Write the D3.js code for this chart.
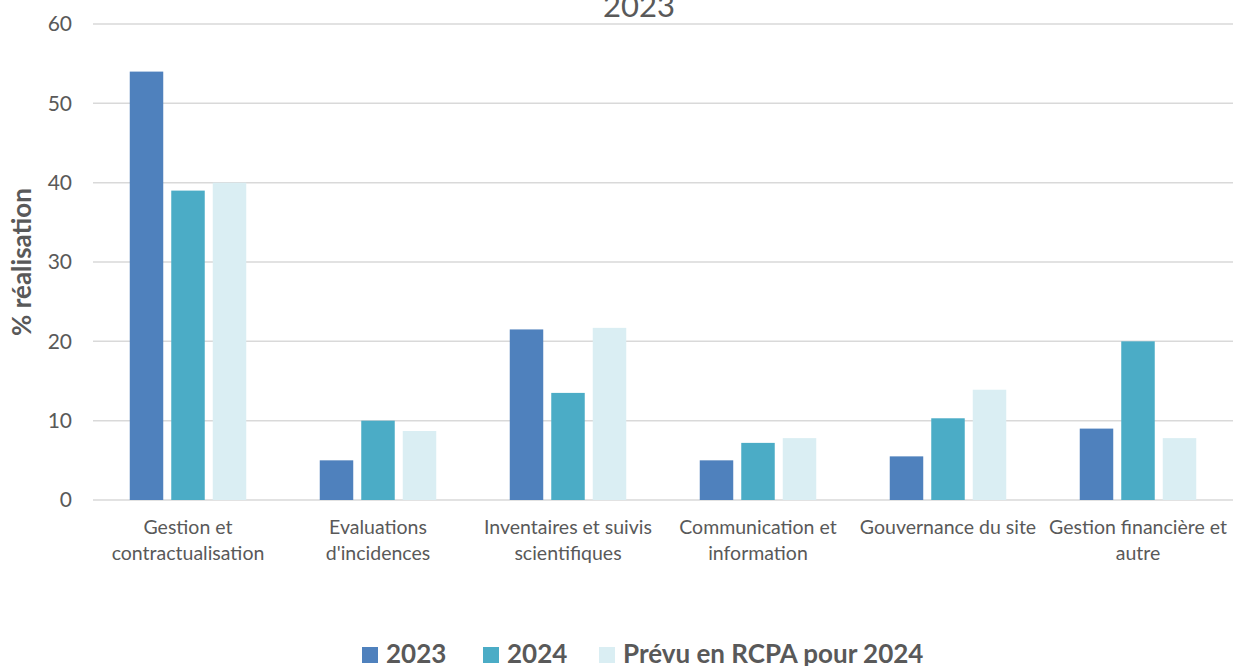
<!DOCTYPE html>
<html><head><meta charset="utf-8">
<script src="https://cdn.jsdelivr.net/npm/d3@7"></script>
<style>body{margin:0;background:#fff;} svg{display:block;}</style>
</head><body>
<svg id="c" width="1233" height="666"></svg>
<script>
const categories = [
  ["Gestion et", "contractualisation"],
  ["Evaluations", "d'incidences"],
  ["Inventaires et suivis", "scientifiques"],
  ["Communication et", "information"],
  ["Gouvernance du site"],
  ["Gestion financière et", "autre"]
];
const seriesNames = ["2023", "2024", "Prévu en RCPA pour 2024"];
const values2023 = [54, 5, 21.5, 5, 5.5, 9];
const values2024 = [39, 10, 13.5, 7.2, 10.3, 20];
const valuesPrevu = [40, 8.7, 21.7, 7.8, 13.9, 7.8];
const yTicks = [0, 10, 20, 30, 40, 50, 60];
const colors = ["#4F81BD", "#4BACC6", "#DAEEF3"];

(function () {
const seriesValues = [values2023, values2024, valuesPrevu];
const catKeys = categories.map(c => c.join(" "));
const svg = d3.select("#c");
const font = "Lato, 'Open Sans', sans-serif";
const pl = 93, pr = 1233, pt = 24, pb = 500;

const y = d3.scaleLinear().domain([0, 60]).range([pb, pt]);
const x0 = d3.scaleBand().domain(catKeys).range([pl, pr]).padding(0);
const groupW = 116.5;
const x1 = d3.scaleBand().domain(seriesNames).range([0, groupW]).paddingInner(0.193).paddingOuter(0);

svg.append("g").selectAll("line").data(yTicks).join("line")
  .attr("x1", pl).attr("x2", pr)
  .attr("y1", d => y(d)).attr("y2", d => y(d))
  .attr("stroke", "#d9d9d9").attr("stroke-width", 1.5);

const yAxis = d3.axisLeft(y).tickValues(yTicks).tickSize(0).tickPadding(0);
const ya = svg.append("g").attr("transform", `translate(72,0)`).call(yAxis);
ya.select(".domain").remove();
ya.selectAll("text").attr("font-family", font).attr("font-size", 21).attr("fill", "#595959");

svg.append("text").attr("x", 639).attr("y", 17).attr("text-anchor", "middle")
  .attr("font-family", font).attr("font-size", 31).attr("fill", "#595959").text("2023");

svg.append("text").attr("transform", "translate(31,262) rotate(-90)")
  .attr("text-anchor", "middle").attr("font-family", font).attr("font-weight", "bold")
  .attr("font-size", 26).attr("fill", "#595959").text("% réalisation");

seriesNames.forEach((s, si) => {
  svg.append("g").selectAll("rect").data(seriesValues[si]).join("rect")
    .attr("x", (d, i) => x0(catKeys[i]) + x0.bandwidth() / 2 - groupW / 2 + x1(s))
    .attr("width", x1.bandwidth())
    .attr("y", d => y(d))
    .attr("height", d => y(0) - y(d))
    .attr("fill", colors[si]);
});

const cl = svg.append("g");
categories.forEach((c, i) => {
  const cx = x0(catKeys[i]) + x0.bandwidth() / 2;
  const t = cl.append("text").attr("text-anchor", "middle")
    .attr("font-family", font).attr("font-size", 19.5).attr("fill", "#595959");
  c.forEach((line, li) => {
    t.append("tspan").attr("x", cx).attr("y", 534 + li * 26).text(line);
  });
});

const legX = [362, 483, 599];
const lg = svg.append("g");
seriesNames.forEach((s, i) => {
  lg.append("rect").attr("x", legX[i]).attr("y", 647).attr("width", 16).attr("height", 16).attr("fill", colors[i]);
  lg.append("text").attr("x", legX[i] + 24).attr("y", 663)
    .attr("font-family", font).attr("font-weight", "bold").attr("font-size", 26)
    .attr("fill", "#595959").text(s);
});
})();
</script>
</body></html>
